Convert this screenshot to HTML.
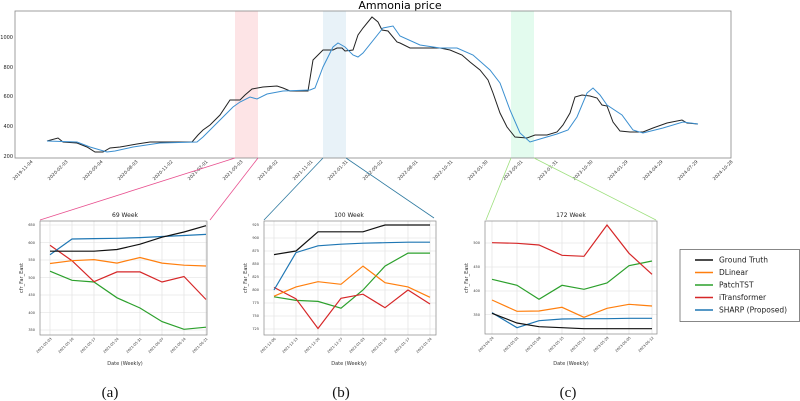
<!DOCTYPE html>
<html><head><meta charset="utf-8"><style>
html,body{margin:0;padding:0;background:#fff;}
svg{display:block;font-family:"DejaVu Sans","Liberation Sans",sans-serif;}
</style></head><body>
<svg width="800" height="401" viewBox="0 0 800 401" xmlns="http://www.w3.org/2000/svg">
<rect width="800" height="401" fill="#fff"/>
<!-- main chart -->
<rect x="235" y="11" width="23" height="147" fill="#fde4e6"/>
<rect x="323" y="11" width="23" height="147" fill="#e8f2f8"/>
<rect x="511" y="11" width="23" height="147" fill="#e3fbee"/>
<text x="400" y="9" font-size="11" text-anchor="middle">Ammonia price</text>
<g font-size="5" fill="#222" text-anchor="end">
<text x="13" y="39">1000</text><text x="13" y="69">800</text><text x="13" y="98">600</text><text x="13" y="128">400</text><text x="13" y="158">200</text>
</g>
<g font-size="4.5" fill="#333" text-anchor="end">
<text transform="translate(33,162) rotate(-45)">2019-11-04</text>
<text transform="translate(68,162) rotate(-45)">2020-02-03</text>
<text transform="translate(103,162) rotate(-45)">2020-05-04</text>
<text transform="translate(138,162) rotate(-45)">2020-08-03</text>
<text transform="translate(173,162) rotate(-45)">2020-11-02</text>
<text transform="translate(208,162) rotate(-45)">2021-02-01</text>
<text transform="translate(243,162) rotate(-45)">2021-05-03</text>
<text transform="translate(278,162) rotate(-45)">2021-08-02</text>
<text transform="translate(313,162) rotate(-45)">2021-11-01</text>
<text transform="translate(348,162) rotate(-45)">2022-01-31</text>
<text transform="translate(383,162) rotate(-45)">2022-05-02</text>
<text transform="translate(418,162) rotate(-45)">2022-08-01</text>
<text transform="translate(453,162) rotate(-45)">2022-10-31</text>
<text transform="translate(488,162) rotate(-45)">2023-01-30</text>
<text transform="translate(523,162) rotate(-45)">2023-05-01</text>
<text transform="translate(558,162) rotate(-45)">2023-07-31</text>
<text transform="translate(593,162) rotate(-45)">2023-10-30</text>
<text transform="translate(628,162) rotate(-45)">2024-01-29</text>
<text transform="translate(663,162) rotate(-45)">2024-04-29</text>
<text transform="translate(698,162) rotate(-45)">2024-07-29</text>
<text transform="translate(733,162) rotate(-45)">2024-10-28</text>
</g>
<polyline fill="none" stroke="#222" stroke-width="1" points="47,141 58,138 63,142 77,143 87,147 95,152 103,152 110,148 120,147 137,144 150,142 163,142 192,142 198,135 203,130 210,125 220,115 230,100 240,100 245,95 252,89 263,87 277,86 283,88 290,91 308,91 313,60 320,53 323,50 333,50 337,48 342,48 345,51 353,50 358,35 363,28 372,17 378,22 382,30 388,31 397,42 400,43 410,48 440,48 450,50 462,55 470,62 480,70 488,80 493,93 500,113 507,127 515,137 527,138 535,135 547,135 557,132 563,125 570,113 575,97 582,95 590,96 597,98 602,105 607,106 613,122 620,131 630,132 643,132 653,128 667,123 682,120 687,123 698,124"/>
<polyline fill="none" stroke="#3b8fd0" stroke-width="1" points="47,141 77,142 90,147 107,152 115,151 133,147 160,143 197,142 203,137 220,120 233,107 240,102 250,97 257,99 267,94 283,91 310,90 315,88 323,67 333,47 338,43 345,47 353,55 358,57 363,53 383,28 393,26 400,36 420,45 440,48 457,48 473,55 490,70 500,83 510,110 520,133 530,142 540,139 557,134 568,130 577,117 587,93 593,88 600,95 607,105 622,115 633,130 643,133 663,128 683,122 698,124"/>
<rect x="15" y="11" width="716" height="147" fill="none" stroke="#888" stroke-width="0.8"/>
<!-- connectors -->
<g stroke-width="0.8" fill="none">
<line x1="235" y1="158" x2="40" y2="220" stroke="#e8508f"/>
<line x1="258" y1="158" x2="210" y2="220" stroke="#e8508f"/>
<line x1="323" y1="158" x2="264" y2="220" stroke="#2f7aa0"/>
<line x1="346" y1="158" x2="434" y2="218" stroke="#2f7aa0"/>
<line x1="511" y1="158" x2="486" y2="220" stroke="#9ee07e"/>
<line x1="534" y1="158" x2="656" y2="220" stroke="#9ee07e"/>
</g>
<!-- subplot a -->
<g stroke="#ddd" stroke-width="0.6">
<line x1="50" y1="221" x2="50" y2="335"/><line x1="72" y1="221" x2="72" y2="335"/><line x1="94" y1="221" x2="94" y2="335"/><line x1="117" y1="221" x2="117" y2="335"/><line x1="140" y1="221" x2="140" y2="335"/><line x1="162" y1="221" x2="162" y2="335"/><line x1="184" y1="221" x2="184" y2="335"/><line x1="206" y1="221" x2="206" y2="335"/>
<line x1="40" y1="225" x2="207" y2="225"/><line x1="40" y1="242.5" x2="207" y2="242.5"/><line x1="40" y1="260" x2="207" y2="260"/><line x1="40" y1="277.5" x2="207" y2="277.5"/><line x1="40" y1="295" x2="207" y2="295"/><line x1="40" y1="312.5" x2="207" y2="312.5"/><line x1="40" y1="330" x2="207" y2="330"/>
</g>
<text x="125" y="217" font-size="6" text-anchor="middle" fill="#222">69 Week</text>
<g font-size="3.5" fill="#333" text-anchor="end">
<text x="35" y="226">650</text><text x="35" y="244">600</text><text x="35" y="261">550</text><text x="35" y="279">500</text><text x="35" y="296">450</text><text x="35" y="314">400</text><text x="35" y="331">350</text>
</g>
<g font-size="3.5" fill="#333" text-anchor="end">
<text transform="translate(52,339) rotate(-45)">2021-05-03</text><text transform="translate(74,339) rotate(-45)">2021-05-10</text><text transform="translate(96,339) rotate(-45)">2021-05-17</text><text transform="translate(119,339) rotate(-45)">2021-05-24</text><text transform="translate(142,339) rotate(-45)">2021-05-31</text><text transform="translate(164,339) rotate(-45)">2021-06-07</text><text transform="translate(186,339) rotate(-45)">2021-06-14</text><text transform="translate(208,339) rotate(-45)">2021-06-21</text>
</g>
<text x="125" y="365" font-size="5" text-anchor="middle" fill="#333">Date (Weekly)</text>
<text transform="translate(23,278) rotate(-90)" font-size="5" text-anchor="middle" fill="#333">cfr_Far_East</text>
<g fill="none" stroke-width="1.2">
<polyline stroke="#2ca02c" points="50,271.2 72,280.3 94,282 117,297.8 140,308 162,321.6 184,329.3 206,327.2"/>
<polyline stroke="#d62728" points="50,245.3 72,260.7 94,281.7 117,271.9 140,271.9 162,282 184,276.5 206,299.5"/>
<polyline stroke="#ff7f0e" points="50,263.5 72,260.7 94,259.6 117,263.1 140,257.5 162,263.1 184,265.2 206,266"/>
<polyline stroke="#1f77b4" points="50,254.7 72,239 94,238.6 117,238.3 140,237.6 162,236.5 184,235.5 206,234.4"/>
<polyline stroke="#111" points="50,251.2 72,251.2 94,251.2 117,249.5 140,244.2 162,237.2 184,232 206,225.7"/>
</g>
<rect x="40" y="221" width="167" height="114" fill="none" stroke="#888" stroke-width="0.7"/>
<!-- subplot b -->
<g stroke="#ddd" stroke-width="0.6">
<line x1="274" y1="221" x2="274" y2="335"/><line x1="296" y1="221" x2="296" y2="335"/><line x1="318" y1="221" x2="318" y2="335"/><line x1="341" y1="221" x2="341" y2="335"/><line x1="363" y1="221" x2="363" y2="335"/><line x1="385" y1="221" x2="385" y2="335"/><line x1="408" y1="221" x2="408" y2="335"/><line x1="430" y1="221" x2="430" y2="335"/>
<line x1="264" y1="225" x2="436" y2="225"/><line x1="264" y1="238" x2="436" y2="238"/><line x1="264" y1="251" x2="436" y2="251"/><line x1="264" y1="264" x2="436" y2="264"/><line x1="264" y1="277" x2="436" y2="277"/><line x1="264" y1="290" x2="436" y2="290"/><line x1="264" y1="303" x2="436" y2="303"/><line x1="264" y1="316" x2="436" y2="316"/><line x1="264" y1="329" x2="436" y2="329"/>
</g>
<text x="349" y="217" font-size="6" text-anchor="middle" fill="#222">100 Week</text>
<g font-size="3.5" fill="#333" text-anchor="end">
<text x="259" y="226">925</text><text x="259" y="239">900</text><text x="259" y="252">875</text><text x="259" y="265">850</text><text x="259" y="278">825</text><text x="259" y="291">800</text><text x="259" y="304">775</text><text x="259" y="317">750</text><text x="259" y="330">725</text>
</g>
<g font-size="3.5" fill="#333" text-anchor="end">
<text transform="translate(276,339) rotate(-45)">2021-12-06</text><text transform="translate(298,339) rotate(-45)">2021-12-13</text><text transform="translate(320,339) rotate(-45)">2021-12-20</text><text transform="translate(343,339) rotate(-45)">2021-12-27</text><text transform="translate(365,339) rotate(-45)">2022-01-03</text><text transform="translate(387,339) rotate(-45)">2022-01-10</text><text transform="translate(410,339) rotate(-45)">2022-01-17</text><text transform="translate(432,339) rotate(-45)">2022-01-24</text>
</g>
<text x="349" y="365" font-size="5" text-anchor="middle" fill="#333">Date (Weekly)</text>
<text transform="translate(247,278) rotate(-90)" font-size="5" text-anchor="middle" fill="#333">cfr_Far_East</text>
<g fill="none" stroke-width="1.2">
<polyline stroke="#2ca02c" points="274,296.8 296,300.4 318,301.4 341,308.2 363,290 385,266.1 408,253.1 430,253.1"/>
<polyline stroke="#d62728" points="274,287.4 296,298.8 318,328.5 341,298.3 363,294.2 385,307.7 408,290 430,304"/>
<polyline stroke="#ff7f0e" points="274,296.2 296,286.9 318,281.7 341,284.3 363,266.1 385,282.7 408,286.9 430,297.3"/>
<polyline stroke="#1f77b4" points="274,290 296,252.6 318,245.8 341,244.2 363,243.2 385,242.7 408,242.2 430,242.2"/>
<polyline stroke="#111" points="274,254.6 296,251 318,231.8 341,231.8 363,231.8 385,225 408,225 430,225"/>
</g>
<rect x="264" y="221" width="172" height="114" fill="none" stroke="#888" stroke-width="0.7"/>
<!-- subplot c -->
<g stroke="#ddd" stroke-width="0.6">
<line x1="492" y1="221" x2="492" y2="334"/><line x1="517" y1="221" x2="517" y2="334"/><line x1="539" y1="221" x2="539" y2="334"/><line x1="562" y1="221" x2="562" y2="334"/><line x1="584" y1="221" x2="584" y2="334"/><line x1="607" y1="221" x2="607" y2="334"/><line x1="629" y1="221" x2="629" y2="334"/><line x1="652" y1="221" x2="652" y2="334"/>
<line x1="485" y1="243" x2="657" y2="243"/><line x1="485" y1="267" x2="657" y2="267"/><line x1="485" y1="291" x2="657" y2="291"/><line x1="485" y1="314.5" x2="657" y2="314.5"/>
</g>
<text x="571" y="217" font-size="6" text-anchor="middle" fill="#222">172 Week</text>
<g font-size="3.5" fill="#333" text-anchor="end">
<text x="480" y="244">500</text><text x="480" y="268">450</text><text x="480" y="292">400</text><text x="480" y="316">350</text>
</g>
<g font-size="3.5" fill="#333" text-anchor="end">
<text transform="translate(494,338) rotate(-45)">2023-04-24</text><text transform="translate(519,338) rotate(-45)">2023-05-01</text><text transform="translate(541,338) rotate(-45)">2023-05-08</text><text transform="translate(564,338) rotate(-45)">2023-05-15</text><text transform="translate(586,338) rotate(-45)">2023-05-22</text><text transform="translate(609,338) rotate(-45)">2023-05-29</text><text transform="translate(631,338) rotate(-45)">2023-06-05</text><text transform="translate(654,338) rotate(-45)">2023-06-12</text>
</g>
<text x="571" y="365" font-size="5" text-anchor="middle" fill="#333">Date (Weekly)</text>
<text transform="translate(468,278) rotate(-90)" font-size="5" text-anchor="middle" fill="#333">cfr_Far_East</text>
<g fill="none" stroke-width="1.2">
<polyline stroke="#2ca02c" points="492,279.3 517,285.3 539,299.3 562,285.3 584,289.3 607,283 629,265.7 652,261"/>
<polyline stroke="#d62728" points="492,242.7 517,243.3 539,245 562,255.3 584,256.3 607,225 629,253.3 652,274.3"/>
<polyline stroke="#ff7f0e" points="492,300 517,311.3 539,311 562,307.3 584,317.3 607,308.3 629,304.3 652,306"/>
<polyline stroke="#1f77b4" points="492,312.7 517,327.7 539,320.7 562,319 584,318.7 607,318.7 629,318.3 652,318.3"/>
<polyline stroke="#111" points="492,313.3 517,323 539,326.7 562,327.7 584,328.7 607,328.7 629,328.7 652,328.7"/>
</g>
<rect x="485" y="221" width="172" height="113" fill="none" stroke="#888" stroke-width="0.7"/>
<!-- legend -->
<rect x="680" y="249.5" width="119.5" height="72" fill="#fff" stroke="#555" stroke-width="0.7"/>
<g stroke-width="1.6">
<line x1="695" y1="260" x2="713" y2="260" stroke="#111"/>
<line x1="695" y1="272.5" x2="713" y2="272.5" stroke="#ff7f0e"/>
<line x1="695" y1="285" x2="713" y2="285" stroke="#2ca02c"/>
<line x1="695" y1="297.5" x2="713" y2="297.5" stroke="#d62728"/>
<line x1="695" y1="310" x2="713" y2="310" stroke="#1f77b4"/>
</g>
<g font-size="7.5" fill="#222">
<text x="719" y="262.5">Ground Truth</text>
<text x="719" y="275">DLinear</text>
<text x="719" y="287.5">PatchTST</text>
<text x="719" y="300">iTransformer</text>
<text x="719" y="312.5">SHARP (Proposed)</text>
</g>
<!-- panel labels -->
<g font-family="Liberation Serif, serif" font-size="15" text-anchor="middle" fill="#111">
<text x="110" y="397">(a)</text><text x="341" y="397">(b)</text><text x="568" y="397">(c)</text>
</g>
</svg>
</body></html>
